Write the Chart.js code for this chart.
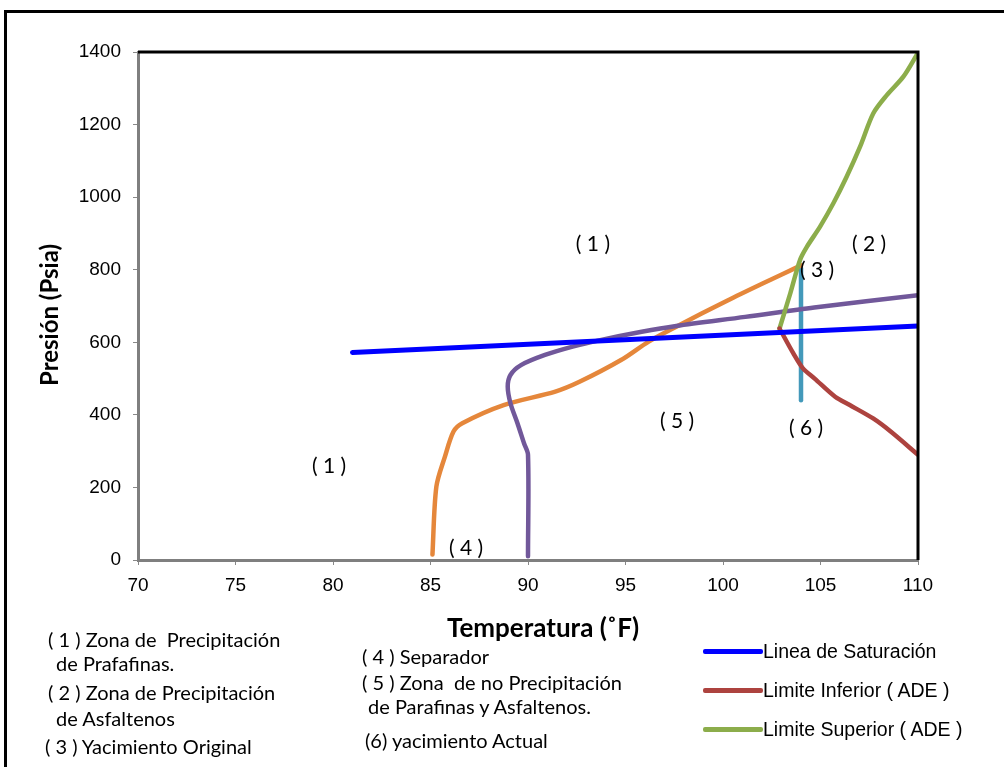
<!DOCTYPE html>
<html>
<head>
<meta charset="utf-8">
<script src="https://cdn.jsdelivr.net/npm/chart.js@4.4.1/dist/chart.umd.min.js"></script>
<style>
  body { margin: 0; background: #fff; overflow: hidden; }
  #wrap { position: relative; width: 1004px; height: 767px; }
  #frame { position: absolute; left: 4px; top: 10px; width: 1100px; height: 900px; border: 3px solid #000; }
  .note { position: absolute; font-family: Lato, sans-serif; font-size: 20px; color: #000; white-space: pre; line-height: 22px; transform: translateY(-50%); }
  .ytitle { position: absolute; left: 48px; top: 315px; font-family: Lato, sans-serif; font-weight: bold; font-size: 24px;
            transform: translate(-50%, -50%) rotate(-90deg); white-space: nowrap; }
  .xtitle { position: absolute; left: 543px; top: 627px; font-family: Lato, sans-serif; font-weight: bold; font-size: 26px;
            transform: translate(-50%, -50%); white-space: nowrap; }
  #legend { position: absolute; left: 703px; top: 632px; font-family: "Liberation Sans", Arial, sans-serif; font-size: 19.5px; }
  #legend div { display: flex; align-items: center; height: 39px; }
  #legend span.sw { display: inline-block; width: 60px; height: 5px; border-radius: 2px; }
</style>
</head>
<body>
<div id="wrap">
  <div id="frame"></div>
  <canvas id="myChart"></canvas>
  <div class="ytitle">Presión (Psia)</div>
  <div class="xtitle">Temperatura (˚F)</div>
  <div class="note" style="left:48px;top:639px">( 1 ) Zona de  Precipitación</div>
  <div class="note" style="left:56px;top:663px">de Prafafinas.</div>
  <div class="note" style="left:48px;top:692px">( 2 ) Zona de Precipitación</div>
  <div class="note" style="left:56px;top:718px">de Asfaltenos</div>
  <div class="note" style="left:45px;top:746px">( 3 ) Yacimiento Original</div>
  <div class="note" style="left:362px;top:656px">( 4 ) Separador</div>
  <div class="note" style="left:362px;top:682px">( 5 ) Zona  de no Precipitación</div>
  <div class="note" style="left:368px;top:706px">de Parafinas y Asfaltenos.</div>
  <div class="note" style="left:365px;top:740px">(6) yacimiento Actual</div>
  <div id="legend"></div>
</div>
<script>
// Linea de saturacion
var satT = [81, 110];
var satP = [572, 645];
// Limite inferior ADE
var infT = [102.9, 103.6, 104.1, 104.7, 105.75, 106.5, 107.7, 108.6, 110];
var infP = [638, 570, 528, 500, 450, 427, 390, 354, 290];
// Limite superior ADE
var supT = [102.9, 103.45, 103.95, 104.3, 104.97, 105.66, 106.34, 107.03, 107.71, 108.4, 109.25, 110];
var supP = [638, 735, 827, 863, 918, 983, 1056, 1139, 1231, 1281, 1332, 1398];
// curva envolvente de parafinas
var parT = [90, 90, 89.8, 89.46, 89.1, 88.96, 89.1, 89.64, 90.87, 92.29, 93.7, 95.83, 97.6, 101.14, 104.68, 110];
var parP = [10, 290, 321, 377, 432, 478, 510, 537, 565, 588, 606, 629, 645, 670, 696, 730];
// trayectoria del separador al yacimiento original
var sepT = [85.1, 85.3, 85.74, 86.18, 86.63, 88.75, 91.4, 92.64, 94.77, 96.19, 97.6, 100.26, 102.03, 104];
var sepP = [15, 202, 285, 354, 377, 427, 464, 491, 551, 602, 643, 716, 762, 812];
// yacimiento actual
var actT = [104, 104];
var actP = [805, 440];

var xTicks = [70, 110, 5];
var yTicks = [0, 1400, 200];

// etiquetas de zonas: texto, temperatura, presion
var zoneText = ['( 1 )', '( 2 )', '( 3 )', '( 1 )', '( 4 )', '( 5 )', '( 6 )'];
var zoneT = [93.33, 107.49, 104.82, 79.8, 86.82, 97.64, 104.26];
var zoneP = [871, 871, 799, 259, 33, 383, 364];

function pts(t, p) {
  return t.map(function (v, i) { return { x: v, y: p[i] }; });
}

var series = [
  { label: 'Linea de Saturación', data: pts(satT, satP), color: '#0000ff', width: 5, legend: true },
  { label: 'Limite Inferior ( ADE )', data: pts(infT, infP), color: '#ad433f', width: 4.5, legend: true },
  { label: 'Limite Superior ( ADE )', data: pts(supT, supP), color: '#8cad4b', width: 4.5, legend: true },
  { label: 'Envolvente', data: pts(parT, parP), color: '#71589a', width: 4.5, legend: false },
  { label: 'Separador', data: pts(sepT, sepP), color: '#e5873b', width: 4.5, legend: false },
  { label: 'Yacimiento Actual', data: pts(actT, actP), color: '#4399ba', width: 4.5, legend: false }
];

var frame = {
  id: 'frame',
  afterDatasetsDraw: function (chart) {
    var c = chart.ctx, xs = chart.scales.x, ys = chart.scales.y;
    c.save();
    c.fillStyle = '#000';
    c.font = '21px Lato';
    c.textAlign = 'center';
    c.textBaseline = 'middle';
    zoneText.forEach(function (t, i) {
      c.fillText(t, xs.getPixelForValue(zoneT[i]), ys.getPixelForValue(zoneP[i]));
    });
    c.restore();
  },
  afterDraw: function (chart) {
    var c = chart.ctx, a = chart.chartArea;
    c.save();
    c.strokeStyle = '#000';
    c.lineWidth = 3;
    c.beginPath();
    c.moveTo(a.left, a.top);
    c.lineTo(a.right, a.top);
    c.lineTo(a.right, a.bottom);
    c.stroke();
    c.restore();
  }
};

var ctx = document.getElementById('myChart').getContext('2d');
var myChart = new Chart(ctx, {
  type: 'scatter',
  data: {
    datasets: series.map(function (s) {
      return {
        label: s.label,
        data: s.data,
        showLine: true,
        borderColor: s.color,
        backgroundColor: s.color,
        borderWidth: s.width,
        pointRadius: 0,
        tension: 0.3,
        borderCapStyle: 'round',
        borderJoinStyle: 'round'
      };
    })
  },
  plugins: [frame],
  options: {
    responsive: true,
    maintainAspectRatio: false,
    animation: false,
    layout: { padding: { left: 0, top: 52, right: 86, bottom: 167 } },
    plugins: {
      legend: { display: false },
      tooltip: { enabled: false }
    },
    scales: {
      x: {
        type: 'linear',
        min: xTicks[0], max: xTicks[1],
        afterFit: function (s) { s.height = 40; },
        ticks: { stepSize: xTicks[2], color: '#000', padding: 9, font: { family: 'Liberation Sans', size: 19 },
                 callback: function (v) { return String(v); } },
        grid: { drawOnChartArea: false, drawTicks: true, tickLength: 5, color: '#888' },
        border: { color: '#7f7f7f', width: 3 }
      },
      y: {
        min: yTicks[0], max: yTicks[1],
        afterFit: function (s) { s.width = 138; },
        ticks: { stepSize: yTicks[2], color: '#000', padding: 12, font: { family: 'Liberation Sans', size: 19 },
                 callback: function (v) { return String(v); } },
        grid: { drawOnChartArea: false, drawTicks: true, tickLength: 5, color: '#888' },
        border: { color: '#7f7f7f', width: 3 }
      }
    }
  }
});

// leyenda con las tres curvas principales
var leg = document.getElementById('legend');
series.filter(function (s) { return s.legend; }).forEach(function (s) {
  var row = document.createElement('div');
  row.innerHTML = '<span class="sw" style="background:' + s.color + '"></span><span>' + s.label + '</span>';
  leg.appendChild(row);
});
</script>
</body>
</html>
